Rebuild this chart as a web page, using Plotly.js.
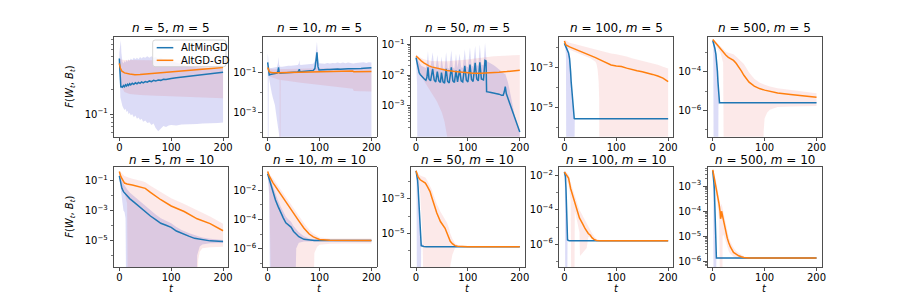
<!DOCTYPE html>
<html><head><meta charset="utf-8">
<script src="https://cdn.plot.ly/plotly-3.0.1.min.js"></script>
<style>html,body{margin:0;padding:0;background:#fff}#chart{width:913px;height:305px}</style>
</head><body><div id="chart"></div>
<script>
// lower bounds (mean - std) that are <= 0 are clipped on the log scale
const CLIP = 1e-12;

const nValues = [5, 10, 50, 100, 500];
const mValues = [5, 10];
const seriesNames = ["AltMinGD", "AltGD-GD"];
const xTicks = [0, 100, 200];
const yTickExp = [[-1], [-1, -3], [-1, -2, -3], [-3, -5], [-4, -6],
                  [-1, -3, -5], [-2, -4, -6], [-3, -5], [-2, -4, -6], [-3, -4, -5, -6]];

// ---- n=5, m=5
const t_min_1 = [0,1,2,3,4,6,8,10,12,14,16,18,20,22,25,28,31,34,37,40,43,46,50,54,58,62,66,70,75,80,85,90,95,100,110,120,130,140,150,160,170,180,190,200];
const altmin_1 = [0.47,0.38,0.25,0.21,0.216,0.212,0.222,0.215,0.226,0.219,0.23,0.222,0.233,0.226,0.236,0.229,0.239,0.232,0.242,0.236,0.245,0.239,0.248,0.243,0.252,0.247,0.256,0.251,0.259,0.256,0.264,0.262,0.268,0.27,0.276,0.281,0.287,0.292,0.297,0.302,0.307,0.311,0.316,0.32];
const altmin_hi_1 = [0.55,0.62,0.75,0.78,0.55,0.43,0.41,0.44,0.42,0.45,0.43,0.46,0.44,0.47,0.45,0.48,0.46,0.48,0.46,0.49,0.47,0.49,0.48,0.5,0.48,0.5,0.48,0.49,0.47,0.48,0.46,0.46,0.44,0.44,0.42,0.4,0.38,0.37,0.365,0.36,0.36,0.355,0.355,0.355];
const t_min_lo_1 = t_min_1;
const altmin_lo_1 = [0.4,0.2,0.16,0.15,0.14,0.125,0.118,0.112,0.116,0.106,0.11,0.1,0.104,0.097,0.1,0.092,0.096,0.088,0.091,0.085,0.088,0.081,0.084,0.078,0.08,0.074,0.077,0.068,0.062,0.067,0.072,0.07,0.073,0.074,0.073,0.075,0.075,0.076,0.076,0.077,0.077,0.078,0.078,0.079];
const t_gd_1 = [0,2,5,10,20,30,40,60,80,100,120,140,160,180,200];
const altgd_1 = [0.41,0.36,0.33,0.315,0.305,0.3,0.302,0.31,0.318,0.326,0.334,0.342,0.35,0.357,0.365];
const altgd_hi_1 = [0.47,0.46,0.455,0.452,0.45,0.45,0.45,0.448,0.448,0.45,0.45,0.452,0.452,0.455,0.455];
const t_gd_lo_1 = t_gd_1;
const altgd_lo_1 = [0.36,0.26,0.21,0.185,0.175,0.172,0.17,0.168,0.166,0.164,0.162,0.16,0.158,0.157,0.156];

// ---- n=10, m=5
const t_min_2 = [0,1,2,3,5,8,10,14,18,20,21,22,24,28,32,36,40,45,50,55,58,60,61,62,64,68,72,76,80,84,88,91,93,94,95,96,97,99,102,106,110,115,120,125,130,135,140,145,150,155,160,165,170,175,180,185,190,195,200];
const altmin_2 = [0.33,0.2,0.09,0.077,0.08,0.084,0.087,0.09,0.094,0.13,0.186,0.11,0.094,0.096,0.098,0.1,0.101,0.103,0.104,0.106,0.109,0.125,0.15,0.115,0.11,0.113,0.118,0.122,0.125,0.127,0.13,0.16,0.3,0.6,1.05,0.5,0.2,0.135,0.138,0.142,0.14,0.145,0.143,0.148,0.146,0.152,0.15,0.156,0.153,0.158,0.156,0.155,0.16,0.165,0.162,0.168,0.166,0.172,0.175];
const altmin_hi_2 = [0.9,0.6,0.2,0.15,0.165,0.17,0.175,0.18,0.19,0.32,0.6,0.25,0.2,0.2,0.21,0.21,0.22,0.22,0.23,0.23,0.24,0.29,0.42,0.26,0.24,0.25,0.26,0.26,0.27,0.27,0.28,0.4,1.0,2.0,3.6,1.5,0.5,0.3,0.29,0.3,0.28,0.31,0.29,0.31,0.3,0.32,0.3,0.32,0.3,0.32,0.31,0.29,0.31,0.32,0.31,0.33,0.31,0.33,0.32];
const t_min_lo_2 = [0,1,2,3,5,8,10,14,18,20,21,22,24,200];
const altmin_lo_2 = [0.1,CLIP,0.06,0.04,0.022,0.009,0.0055,0.0023,0.0004,0.0002,0.00012,0.00008,CLIP,CLIP];
const t_gd_2 = [0,1,3,5,10,20,30,40,60,80,100,120,140,160,164,166,170,180,200];
const altgd_2 = [0.18,0.14,0.115,0.105,0.1,0.1,0.101,0.102,0.105,0.108,0.11,0.113,0.116,0.12,0.12,0.11,0.11,0.112,0.115];
const altgd_hi_2 = [0.22,0.2,0.17,0.16,0.15,0.15,0.152,0.155,0.158,0.162,0.165,0.168,0.17,0.175,0.175,0.165,0.165,0.167,0.17];
const t_gd_lo_2 = [0,1,3,5,10,20,23,24,25,30,40,60,80,100,120,140,160,164,166,170,180,200];
const altgd_lo_2 = [0.14,0.09,0.07,0.063,0.055,0.045,0.044,CLIP,0.043,0.042,0.038,0.032,0.028,0.024,0.021,0.018,0.016,0.0158,0.012,0.0118,0.0117,0.0115];

// ---- n=50, m=5
const t_min_3 = [0,2,4,6,8,10,13,16,19,21,23,25,28,32,35,38,41,44,47,49,52,55,58,61,64,68,71,74,77,80,84,87,90,94,97,100,104,107,110,114,117,120,123,126,130,133,135,136,140,145,150,155,160,165,168,170,172,174,177,180,185,190,195,200];
const altmin_3 = [0.037,0.026,0.016,0.012,0.0105,0.0095,0.0085,0.0075,0.0068,0.0085,0.018,0.0075,0.0065,0.016,0.007,0.006,0.013,0.0065,0.0058,0.012,0.006,0.0055,0.016,0.0062,0.0056,0.018,0.0065,0.0058,0.014,0.006,0.015,0.0065,0.006,0.02,0.0068,0.006,0.022,0.0072,0.0062,0.025,0.0075,0.0065,0.026,0.0075,0.007,0.03,0.029,0.0029,0.0028,0.0027,0.0026,0.0025,0.0024,0.0022,0.0022,0.0028,0.0042,0.0025,0.0018,0.0013,0.0008,0.00045,0.00025,0.00014];
const altmin_hi_3 = [0.045,0.04,0.03,0.025,0.022,0.02,0.019,0.018,0.017,0.025,0.06,0.02,0.018,0.055,0.019,0.017,0.045,0.018,0.016,0.04,0.017,0.016,0.055,0.017,0.016,0.065,0.018,0.016,0.05,0.017,0.05,0.018,0.017,0.07,0.019,0.018,0.08,0.02,0.019,0.09,0.021,0.02,0.1,0.022,0.021,0.11,0.05,0.028,0.026,0.024,0.021,0.018,0.015,0.013,0.012,0.011,0.011,0.009,0.006,0.0035,0.0012,0.0005,0.00025,0.00016];
const t_min_lo_3 = [0,2,4,200];
const altmin_lo_3 = [0.03,0.005,CLIP,CLIP];
const t_gd_3 = [0,5,10,15,20,25,30,40,50,60,75,90,100,110,125,140,150,160,175,190,200];
const altgd_3 = [0.042,0.034,0.029,0.025,0.022,0.02,0.0185,0.0168,0.0155,0.0142,0.013,0.0122,0.0118,0.0116,0.0115,0.0117,0.012,0.0124,0.013,0.0138,0.0145];
const altgd_hi_3 = [0.047,0.04,0.036,0.033,0.031,0.03,0.029,0.028,0.028,0.028,0.029,0.03,0.032,0.034,0.037,0.04,0.041,0.042,0.043,0.044,0.045];
const t_gd_lo_3 = [0,5,10,15,20,25,30,40,50,55,60,75,200];
const altgd_lo_3 = [0.037,0.015,0.009,0.0065,0.005,0.0037,0.0027,0.0014,0.0006,0.0003,0.0001,CLIP,CLIP];

// ---- n=100, m=5
const t_min_4 = [0,2,4,6,8,10,11,12,13,14,15,16,17,18,19,20,30,50,100,150,200];
const altmin_4 = [0.0166,0.013,0.0105,0.008,0.0055,0.0028,0.0017,0.0006,0.0002,8e-5,3.5e-5,1.3e-5,6e-6,3.5e-6,2.8e-6,2.7e-6,2.7e-6,2.7e-6,2.7e-6,2.7e-6,2.7e-6];
const altmin_hi_4 = [0.018,0.015,0.012,0.0095,0.0068,0.0036,0.0023,0.0009,0.0003,0.00012,5e-5,2e-5,9e-6,5e-6,3.2e-6,2.8e-6,2.75e-6,2.75e-6,2.75e-6,2.75e-6,2.75e-6];
const t_min_lo_4 = [0,2,3,4,18,19,20,200];
const altmin_lo_4 = [0.015,0.009,0.004,CLIP,CLIP,2.5e-6,2.65e-6,2.65e-6];
const t_gd_4 = [0,3,10,25,40,50,60,70,80,90,100,110,120,130,140,150,160,170,180,190,200];
const altgd_4 = [0.022,0.0137,0.011,0.0077,0.0055,0.0043,0.0032,0.0024,0.0018,0.00137,0.00122,0.00115,0.00095,0.00078,0.0007,0.00063,0.00055,0.00046,0.00038,0.0003,0.0002];
const altgd_hi_4 = [0.025,0.022,0.018,0.014,0.011,0.0095,0.008,0.0068,0.006,0.0052,0.0047,0.0042,0.0036,0.003,0.0026,0.0023,0.002,0.0017,0.0014,0.0011,0.0009];
const t_gd_lo_4 = [0,3,10,25,40,50,60,62,64,66,67,68,200];
const altgd_lo_4 = [0.019,0.01,0.008,0.0055,0.0038,0.003,0.002,0.0015,0.0008,0.0002,3e-5,CLIP,CLIP];

// ---- n=500, m=5
const t_min_5 = [0,2,4,6,8,9,10,11,12,13,20,50,100,150,200];
const altmin_5 = [0.004,0.0028,0.0016,0.0008,0.0003,0.0001,3e-5,8e-6,3e-6,2.55e-6,2.55e-6,2.55e-6,2.55e-6,2.55e-6,2.55e-6];
const altmin_hi_5 = [0.0045,0.0035,0.0022,0.0012,0.0005,0.0002,6e-5,1.5e-5,4e-6,2.7e-6,2.65e-6,2.65e-6,2.65e-6,2.65e-6,2.65e-6];
const t_min_lo_5 = [0,1,2,10,11,12,13,200];
const altmin_lo_5 = [0.0035,0.0015,CLIP,CLIP,2e-6,2.4e-6,2.45e-6,2.45e-6];
const t_gd_5 = [0,5,10,15,20,25,30,35,40,45,50,55,60,65,70,80,90,100,110,125,150,175,200];
const altgd_5 = [0.0045,0.0031,0.0021,0.0015,0.001,0.00072,0.00055,0.00047,0.00038,0.00027,0.00018,0.00011,6.5e-5,4e-5,2.9e-5,1.8e-5,1.35e-5,1.12e-5,9.5e-6,8e-6,6.6e-6,5.5e-6,4.8e-6];
const altgd_hi_5 = [0.005,0.0037,0.0027,0.002,0.0015,0.0011,0.00095,0.00088,0.00078,0.0006,0.00045,0.00035,0.00025,0.00015,9e-5,4.3e-5,2.8e-5,2.1e-5,1.7e-5,1.4e-5,1.15e-5,9e-6,7.8e-6];
const t_gd_lo_5 = [0,5,10,15,20,22,97,98,100,105,110,125,150,175,200];
const altgd_lo_5 = [0.004,0.0025,0.0015,0.0009,0.0003,CLIP,CLIP,8e-8,4e-7,8e-7,1.1e-6,1.5e-6,1.6e-6,1.65e-6,1.7e-6];

// ---- n=5, m=10
const t_min_6 = [0,3,5,8,10,12,14,15,20,30,40,50,60,70,80,90,95,98,100,110,120,135,145,150,155,160,175,200];
const altmin_6 = [0.2,0.06,0.03,0.018,0.015,0.012,0.01,0.0095,0.0062,0.0032,0.0016,0.0008,0.00043,0.00025,0.00014,0.000105,9e-5,8.6e-5,7.5e-5,4.3e-5,3e-5,1.9e-5,1.4e-5,1.3e-5,1.2e-5,1.1e-5,9.5e-6,8.6e-6];
const altmin_hi_6 = [0.3,0.12,0.1,0.06,0.045,0.035,0.028,0.026,0.016,0.008,0.004,0.002,0.001,0.00055,0.0003,0.0002,0.00017,0.00016,0.00014,8e-5,5e-5,3e-5,2.2e-5,2e-5,1.8e-5,1.6e-5,1.3e-5,1.1e-5];
const t_min_lo_6 = [0,3,5,8,10,12,14,148,150,155,160,175,200];
const altmin_lo_6 = [0.15,0.02,0.004,0.001,0.0008,0.0003,CLIP,CLIP,1e-6,4e-6,5.5e-6,6.5e-6,6.8e-6];
const t_gd_6 = [0,3,10,15,25,45,50,60,80,100,125,150,175,200];
const altgd_6 = [0.4,0.18,0.067,0.058,0.05,0.036,0.03,0.016,0.0052,0.002,0.00086,0.00028,0.000135,4.5e-5];
const altgd_hi_6 = [0.45,0.35,0.2,0.17,0.13,0.09,0.075,0.045,0.016,0.0065,0.0027,0.0011,0.0004,0.00013];
const t_gd_lo_6 = [0,3,10,15,17,150,152,155,160,175,200];
const altgd_lo_6 = [0.35,0.06,0.015,0.003,CLIP,CLIP,5e-7,1.8e-6,3.1e-6,3.6e-6,3.9e-6];

// ---- n=10, m=10
const t_min_7 = [0,3,5,8,10,12,15,20,25,30,35,40,45,50,55,60,70,80,90,100,150,200];
const altmin_7 = [0.14,0.06,0.035,0.012,0.007,0.0045,0.0022,0.0008,0.0003,0.00013,6e-5,4e-5,3e-5,1.5e-5,1e-5,6.5e-6,4.3e-6,3.8e-6,3.6e-6,3.6e-6,3.6e-6,3.6e-6];
const altmin_hi_7 = [0.2,0.1,0.07,0.03,0.018,0.012,0.006,0.002,0.0008,0.00035,0.00016,0.0001,7e-5,3.5e-5,2.2e-5,1.3e-5,7e-6,5e-6,4.3e-6,4.2e-6,4.2e-6,4.2e-6];
const t_min_lo_7 = [0,3,5,52,55,60,70,80,200];
const altmin_lo_7 = [0.08,0.005,CLIP,CLIP,1e-6,2.5e-6,3e-6,3.1e-6,3.1e-6];
const t_gd_7 = [0,3,10,20,30,40,50,60,70,80,88,95,100,120,150,200];
const altgd_7 = [0.2,0.1,0.035,0.01,0.003,0.0009,0.00025,8e-5,2.5e-5,1e-5,6.3e-6,4.8e-6,4.2e-6,3.7e-6,3.6e-6,3.6e-6];
const altgd_hi_7 = [0.25,0.15,0.07,0.022,0.007,0.002,0.0006,0.00018,5.5e-5,2e-5,1.1e-5,7e-6,5.8e-6,5e-6,5e-6,5e-6];
const t_gd_lo_7 = [0,3,8,87,90,95,100,120,150,200];
const altgd_lo_7 = [0.15,0.02,CLIP,CLIP,5e-7,1.3e-6,1.8e-6,2.1e-6,2.2e-6,2.2e-6];

// ---- n=50, m=10
const t_min_8 = [0,1,2,3,4,5,6,7,8,10,15,20,50,100,150,200];
const altmin_8 = [0.04,0.03,0.02,0.012,0.0045,0.0012,0.0002,3e-5,5e-6,2e-6,1.8e-6,1.75e-6,1.75e-6,1.75e-6,1.75e-6,1.75e-6];
const altmin_hi_8 = [0.045,0.038,0.03,0.02,0.009,0.003,0.0006,0.0001,2e-5,3e-6,1.9e-6,1.8e-6,1.8e-6,1.8e-6,1.8e-6,1.8e-6];
const t_min_lo_8 = [0,1,2,8,10,200];
const altmin_lo_8 = [0.035,0.005,CLIP,CLIP,1.7e-6,1.7e-6];
const t_gd_8 = [0,4,8,12,18,22,27,30,34,40,47,52,56,60,64,66,70,75,80,90,100,150,200];
const altgd_8 = [0.041,0.018,0.0124,0.01,0.008,0.005,0.0026,0.0013,0.00056,0.00015,4.9e-5,3e-5,2e-5,1e-5,5e-6,3.6e-6,2.6e-6,2e-6,1.85e-6,1.77e-6,1.75e-6,1.75e-6,1.75e-6];
const altgd_hi_8 = [0.045,0.028,0.022,0.02,0.017,0.011,0.006,0.0035,0.0016,0.0005,0.00018,0.0001,7e-5,4e-5,1.8e-5,1e-5,5e-6,2.8e-6,2.2e-6,1.9e-6,1.8e-6,1.8e-6,1.8e-6];
const t_gd_lo_8 = [0,4,8,12,18,64,66,70,75,80,90,200];
const altgd_lo_8 = [0.036,0.008,0.002,1e-5,CLIP,CLIP,1.3e-7,6e-7,1.4e-6,1.6e-6,1.7e-6,1.7e-6];

// ---- n=100, m=10
const t_min_9 = [0,1,2,3,4,5,6,8,10,20,50,100,150,200];
const altmin_9 = [0.0165,0.013,0.009,0.002,8e-5,3e-6,1.8e-6,1.65e-6,1.6e-6,1.6e-6,1.6e-6,1.6e-6,1.6e-6,1.6e-6];
const altmin_hi_9 = [0.019,0.016,0.013,0.005,0.0003,1e-5,2.2e-6,1.75e-6,1.65e-6,1.65e-6,1.65e-6,1.65e-6,1.65e-6,1.65e-6];
const t_min_lo_9 = [0,1,2,5,6,8,200];
const altmin_lo_9 = [0.014,0.002,CLIP,CLIP,1.5e-6,1.55e-6,1.55e-6];
const t_gd_9 = [0,3,8,12,14,18,20,22,27,29,30,33,36,40,43,46,50,53,57,62,70,100,150,200];
const altgd_9 = [0.0165,0.012,0.0073,0.0018,0.0011,0.00045,0.00028,0.00016,4.2e-5,3.4e-5,3e-5,1.8e-5,1.4e-5,8e-6,5.5e-6,4.2e-6,3.3e-6,2.4e-6,1.9e-6,1.65e-6,1.6e-6,1.6e-6,1.6e-6,1.6e-6];
const altgd_hi_9 = [0.02,0.016,0.012,0.004,0.0025,0.0011,0.0007,0.0004,0.00012,0.0001,9e-5,6e-5,4.5e-5,2.5e-5,1.5e-5,1e-5,7e-6,4.5e-6,3e-6,2e-6,1.7e-6,1.7e-6,1.7e-6,1.7e-6];
const t_gd_lo_9 = [0,3,8,12,14,19,20,22,27,29,30,43,46,50,57,70,200];
const altgd_lo_9 = [0.013,0.008,0.003,0.0004,CLIP,CLIP,8e-5,5e-5,1.2e-5,5e-6,2e-7,6e-7,2.5e-6,2.6e-6,1.6e-6,1.5e-6,1.5e-6];

// ---- n=500, m=10
const t_min_10 = [0,1,2,3,4,5,6,7,10,20,50,100,150,200];
const altmin_10 = [0.004,0.003,0.0015,0.0008,0.0001,5e-6,1.5e-6,1.38e-6,1.37e-6,1.37e-6,1.37e-6,1.37e-6,1.37e-6,1.37e-6];
const altmin_hi_10 = [0.0045,0.0035,0.0022,0.0013,0.0003,2e-5,2e-6,1.45e-6,1.42e-6,1.42e-6,1.42e-6,1.42e-6,1.42e-6,1.42e-6];
const t_min_lo_10 = [0,1,2,5,6,7,200];
const altmin_lo_10 = [0.0035,0.0005,CLIP,CLIP,1.3e-6,1.33e-6,1.33e-6];
const t_gd_10 = [0,3,6,9,12,14,15,16,17,18,20,22,25,28,31,34,40,45,50,55,60,70,100,150,200];
const altgd_10 = [0.0044,0.0022,0.0011,0.00045,0.0002,0.0001,5e-5,6e-5,0.0001,8e-5,4e-5,2.8e-5,1.5e-5,8.5e-6,5.5e-6,3.8e-6,2.3e-6,1.9e-6,1.7e-6,1.55e-6,1.45e-6,1.38e-6,1.37e-6,1.37e-6,1.37e-6];
const altgd_hi_10 = [0.005,0.003,0.0017,0.0008,0.0004,0.00025,0.00016,0.00017,0.0002,0.00016,9e-5,6e-5,3e-5,1.6e-5,9e-6,6e-6,3.5e-6,2.6e-6,2.2e-6,1.8e-6,1.6e-6,1.45e-6,1.42e-6,1.42e-6,1.42e-6];
const t_gd_lo_10 = [0,3,6,9,12,13,18,19,20,22,25,28,31,34,40,45,50,60,70,200];
const altgd_lo_10 = [0.004,0.0015,0.0006,0.0002,5e-5,CLIP,CLIP,1e-5,1.2e-5,1e-5,6e-6,3.5e-6,2.5e-6,2e-6,1.5e-6,1.3e-6,1.25e-6,1.3e-6,1.33e-6,1.33e-6];

const panels = [
  [t_min_1, altmin_1, altmin_hi_1, t_min_lo_1, altmin_lo_1, t_gd_1, altgd_1, altgd_hi_1, t_gd_lo_1, altgd_lo_1],
  [t_min_2, altmin_2, altmin_hi_2, t_min_lo_2, altmin_lo_2, t_gd_2, altgd_2, altgd_hi_2, t_gd_lo_2, altgd_lo_2],
  [t_min_3, altmin_3, altmin_hi_3, t_min_lo_3, altmin_lo_3, t_gd_3, altgd_3, altgd_hi_3, t_gd_lo_3, altgd_lo_3],
  [t_min_4, altmin_4, altmin_hi_4, t_min_lo_4, altmin_lo_4, t_gd_4, altgd_4, altgd_hi_4, t_gd_lo_4, altgd_lo_4],
  [t_min_5, altmin_5, altmin_hi_5, t_min_lo_5, altmin_lo_5, t_gd_5, altgd_5, altgd_hi_5, t_gd_lo_5, altgd_lo_5],
  [t_min_6, altmin_6, altmin_hi_6, t_min_lo_6, altmin_lo_6, t_gd_6, altgd_6, altgd_hi_6, t_gd_lo_6, altgd_lo_6],
  [t_min_7, altmin_7, altmin_hi_7, t_min_lo_7, altmin_lo_7, t_gd_7, altgd_7, altgd_hi_7, t_gd_lo_7, altgd_lo_7],
  [t_min_8, altmin_8, altmin_hi_8, t_min_lo_8, altmin_lo_8, t_gd_8, altgd_8, altgd_hi_8, t_gd_lo_8, altgd_lo_8],
  [t_min_9, altmin_9, altmin_hi_9, t_min_lo_9, altmin_lo_9, t_gd_9, altgd_9, altgd_hi_9, t_gd_lo_9, altgd_lo_9],
  [t_min_10, altmin_10, altmin_hi_10, t_min_lo_10, altmin_lo_10, t_gd_10, altgd_10, altgd_hi_10, t_gd_lo_10, altgd_lo_10]
];

// ---- styling (layout, not data)
const FONT = "DejaVu Sans, Liberation Sans, sans-serif";
const BLUE = "#1f77b4", ORANGE = "#ff7f0e";
const LINE_COLORS = [BLUE, ORANGE];
const BLUE_FILL = "rgba(50,50,210,0.17)", RED_FILL = "rgba(230,40,40,0.10)";
const yRanges = [[-1.273,-0.063],[-4.215,0.81],[-4.005,-0.747],[-6.465,-1.44],[-7.349,-2.195],
                 [-6.753,-0.087],[-7.262,-0.366],[-6.919,-1.156],[-7.329,-1.473],[-6.211,-2.232]];
const minorSubs = [true,false,true,false,false,false,false,false,false,true];
const rowDom = [[0.5517,0.88],[0.125,0.4533]];
const W = 913, H = 305;
const px = v => v / W, py = v => 1 - v / H;
const titleY = [py(28.5), py(159.6)];
const colDom = c => [0.125 + c*0.1625, 0.25 + c*0.1625];

const traces = [];
const layout = {
  width: W, height: H, margin: {l:0, r:0, t:0, b:0},
  paper_bgcolor: "#fff", plot_bgcolor: "#fff",
  font: {family: FONT, size: 10, color: "#000"},
  showlegend: false,
  annotations: [], shapes: []
};
const sup = e => "10<sup>\u2212" + Math.abs(e) + "</sup>";

panels.forEach((p, i) => {
  const row = Math.floor(i / 5), col = i % 5;
  const k = i + 1, xa = "x" + (k === 1 ? "" : k), ya = "y" + (k === 1 ? "" : k);
  const [tMin, mMin, hMin, tMinLo, lMin, tGd, mGd, hGd, tGdLo, lGd] = p;
  const base = {xaxis: xa, yaxis: ya, mode: "lines", hoverinfo: "skip", showlegend: false};
  traces.push(Object.assign({}, base, {x: tMinLo, y: lMin, line: {width: 0, color: BLUE_FILL}}));
  traces.push(Object.assign({}, base, {x: tMin, y: hMin, line: {width: 0, color: BLUE_FILL}, fill: "tonexty", fillcolor: BLUE_FILL}));
  traces.push(Object.assign({}, base, {x: tGdLo, y: lGd, line: {width: 0, color: RED_FILL}}));
  traces.push(Object.assign({}, base, {x: tGd, y: hGd, line: {width: 0, color: RED_FILL}, fill: "tonexty", fillcolor: RED_FILL}));
  traces.push(Object.assign({}, base, {x: tMin, y: mMin, name: seriesNames[0], line: {width: 1.5, color: BLUE}}));
  traces.push(Object.assign({}, base, {x: tGd, y: mGd, name: seriesNames[1], line: {width: 1.5, color: ORANGE}}));

  const exps = yTickExp[i];
  const r = yRanges[i];
  let minorVals = [];
  if (minorSubs[i]) {
    for (let e = Math.floor(r[0]); e <= Math.ceil(r[1]); e++)
      for (let s = 2; s <= 9; s++) minorVals.push(s * Math.pow(10, e));
  } else {
    for (let e = Math.floor(r[0]); e <= Math.ceil(r[1]); e++)
      if (!exps.includes(e)) minorVals.push(Math.pow(10, e));
  }
  const axCommon = {showline: true, linecolor: "#222", linewidth: 0.8, mirror: true,
    ticks: "outside", ticklen: 3.5, tickwidth: 0.8, tickcolor: "#222",
    showgrid: false, zeroline: false, tickfont: {family: FONT, size: 10, color: "#000"}};
  layout["xaxis" + (k === 1 ? "" : k)] = Object.assign({}, axCommon, {
    domain: colDom(col), anchor: ya, range: [-10, 210], ticklabelstandoff: -2,
    tickmode: "array", tickvals: xTicks, ticktext: xTicks.map(String)});
  layout["yaxis" + (k === 1 ? "" : k)] = Object.assign({}, axCommon, {
    domain: rowDom[row], anchor: xa, type: "log", range: r,
    tickmode: "array", tickvals: exps.map(e => Math.pow(10, e)), ticktext: exps.map(sup),
    minor: {tickmode: "array", tickvals: minorVals, ticks: "outside", ticklen: 2, tickwidth: 0.6, tickcolor: "#222", showgrid: false}});

  const cx = (colDom(col)[0] + colDom(col)[1]) / 2;
  layout.annotations.push({xref: "paper", yref: "paper", x: cx, y: titleY[row], yanchor: "middle", xanchor: "center",
    borderpad: 0, showarrow: false, font: {family: FONT, size: 12, color: "#000"},
    text: "<i>n</i> = " + nValues[col] + ", <i>m</i> = " + mValues[row]});
  if (row === 1) {
    layout.annotations.push({xref: "paper", yref: "paper", x: cx, y: py(288), yanchor: "middle", xanchor: "center",
      borderpad: 0, showarrow: false, font: {family: FONT, size: 10, color: "#000"}, text: "<i>t</i>"});
  }
  if (col === 0) {
    layout.annotations.push({xref: "paper", yref: "paper", x: px(71), y: (rowDom[row][0] + rowDom[row][1]) / 2,
      xanchor: "center", yanchor: "middle", textangle: -90, showarrow: false,
      font: {family: FONT, size: 10, color: "#000"},
      text: "<i>F</i>(<i>W</i><sub><i>t</i></sub>, <i>B</i><sub><i>t</i></sub>)"});
  }
});

// legend box (matplotlib-style, upper right of first panel)
const lx0 = 152.7, lx1 = 226, ly0 = 40, ly1 = 66.7, rr = 2.5;
const rpath = "M" + px(lx0 + rr) + "," + py(ly0) + " L" + px(lx1 - rr) + "," + py(ly0) +
  " Q" + px(lx1) + "," + py(ly0) + " " + px(lx1) + "," + py(ly0 + rr) +
  " L" + px(lx1) + "," + py(ly1 - rr) + " Q" + px(lx1) + "," + py(ly1) + " " + px(lx1 - rr) + "," + py(ly1) +
  " L" + px(lx0 + rr) + "," + py(ly1) + " Q" + px(lx0) + "," + py(ly1) + " " + px(lx0) + "," + py(ly1 - rr) +
  " L" + px(lx0) + "," + py(ly0 + rr) + " Q" + px(lx0) + "," + py(ly0) + " " + px(lx0 + rr) + "," + py(ly0) + " Z";
layout.shapes.push({type: "path", xref: "paper", yref: "paper", path: rpath, layer: "above",
  fillcolor: "rgba(255,255,255,0.8)", line: {color: "#cccccc", width: 0.8}});
seriesNames.forEach((nm, j) => {
  const yy = 47.7 + j * 12.6;
  layout.shapes.push({type: "line", xref: "paper", yref: "paper", layer: "above",
    x0: px(156.7), x1: px(173.3), y0: py(yy), y1: py(yy), line: {color: LINE_COLORS[j], width: 1.5}});
  layout.annotations.push({xref: "paper", yref: "paper", x: px(179.5), y: py(yy), xanchor: "left", yanchor: "middle",
    borderpad: 0, showarrow: false, font: {family: FONT, size: 10, color: "#000"}, text: nm});
});

Plotly.newPlot("chart", traces, layout, {staticPlot: true, displayModeBar: false});
</script>
</body></html>
